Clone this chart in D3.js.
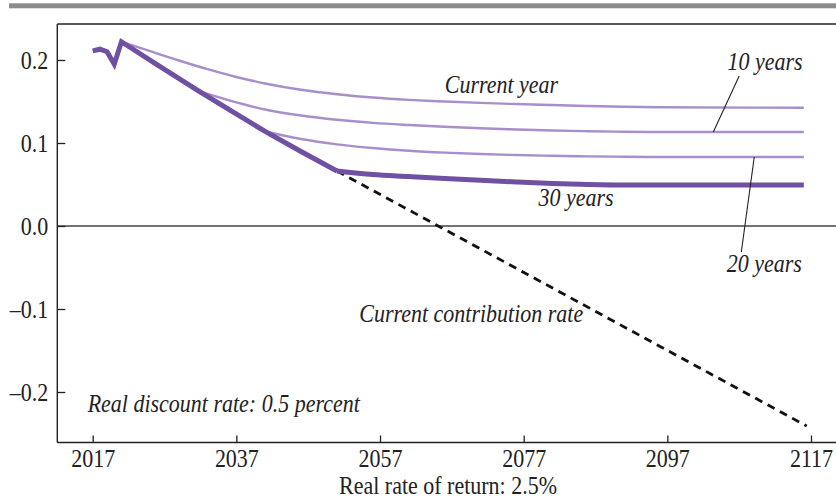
<!DOCTYPE html>
<html>
<head>
<meta charset="utf-8">
<script src="https://cdn.jsdelivr.net/npm/d3@7"></script>
<style>
  html, body { margin: 0; padding: 0; background: #fff; }
  svg { display: block; }
  text { font-family: "Liberation Serif", "Times New Roman", serif; fill: #222; }
  .lbl { font-style: italic; }
</style>
</head>
<body>
<svg id="chart" width="836" height="499"></svg>
<script>
// Contribution-rate paths (years, share of payroll)
const years30    = [2017, 2018, 2019, 2020, 2021, 2026, 2032, 2036, 2041, 2046, 2051, 2056, 2061, 2066, 2071, 2076, 2081, 2086, 2091, 2116];
const values30   = [0.211, 0.213, 0.210, 0.195, 0.222, 0.1942, 0.1614, 0.1402, 0.1139, 0.0898, 0.0663, 0.0620, 0.0596, 0.0572, 0.0550, 0.0530, 0.0512, 0.0500, 0.0494, 0.0494];

const yearsCur   = [2021, 2025, 2029, 2033, 2037, 2041, 2046, 2051, 2056, 2061, 2066, 2071, 2076, 2081, 2086, 2091, 2096, 2116];
const valuesCur  = [0.2220, 0.2106, 0.1994, 0.1889, 0.1795, 0.1717, 0.1641, 0.1587, 0.1548, 0.1520, 0.1500, 0.1483, 0.1469, 0.1457, 0.1446, 0.1437, 0.1431, 0.1425];

const years10    = [2031.7, 2036, 2041, 2046, 2051, 2056, 2061, 2066, 2071, 2076, 2081, 2086, 2091, 2096, 2116];
const values10   = [0.1628, 0.1514, 0.1404, 0.1331, 0.1280, 0.1243, 0.1217, 0.1195, 0.1177, 0.1163, 0.1151, 0.1142, 0.1136, 0.1133, 0.1133];

const years20    = [2041, 2046, 2051, 2056, 2061, 2066, 2071, 2076, 2081, 2086, 2091, 2096, 2116];
const values20   = [0.1139, 0.1048, 0.0984, 0.0940, 0.0907, 0.0884, 0.0867, 0.0855, 0.0846, 0.0839, 0.0834, 0.0831, 0.0831];

const yearsDash  = [2051, 2116.4];
const valuesDash = [0.0663, -0.2410];

const xTicks = [2017, 2037, 2057, 2077, 2097, 2117];
const yTicks = [0.2, 0.1, 0.0, -0.1, -0.2];
const yTickLabels = ["0.2", "0.1", "0.0", "\u20130.1", "\u20130.2"];

(function draw() {
  const svg = d3.select("#chart");
  const W = 836;
  const plotLeft = 57.3, plotTop = 24, plotBottom = 442.5, plotRight = W;
  const stretch = 1.1;   // typeset glyphs run slightly tall

  const x = d3.scaleLinear().domain([2017, 2117]).range([92.7, 811]);
  const y = d3.scaleLinear().domain([-0.2, 0.2]).range([392, 60]);

  const zip = (xs, vs) => xs.map((d, i) => [d, vs[i]]);

  // Top rule
  svg.append("rect").attr("x", 9).attr("y", 3.3).attr("width", W - 9).attr("height", 5)
    .attr("fill", "#8c8c8c");

  // Frame: top, left, bottom
  const frame = svg.append("g").attr("stroke", "#222").attr("stroke-width", 1.4).attr("fill", "none");
  frame.append("line").attr("x1", plotLeft).attr("x2", plotRight).attr("y1", plotTop).attr("y2", plotTop);
  frame.append("line").attr("x1", plotLeft).attr("x2", plotLeft).attr("y1", plotTop).attr("y2", plotBottom);
  frame.append("line").attr("x1", plotLeft).attr("x2", plotRight).attr("y1", plotBottom).attr("y2", plotBottom);

  // Zero line
  svg.append("line").attr("x1", plotLeft).attr("x2", plotRight).attr("y1", y(0)).attr("y2", y(0))
    .attr("stroke", "#444").attr("stroke-width", 1.3);

  // Y axis (ticks pointing inward)
  const yAxis = d3.axisLeft(y).tickValues(yTicks).tickSizeInner(-8).tickSizeOuter(0)
    .tickPadding(17).tickFormat((d, i) => yTickLabels[i]);
  const gy = svg.append("g").attr("transform", `translate(${plotLeft},0)`).call(yAxis);
  gy.select(".domain").remove();
  gy.selectAll(".tick line").attr("stroke", "#222").attr("stroke-width", 1.3);
  gy.selectAll(".tick text").attr("font-family", "Liberation Serif, serif")
    .attr("font-size", 22).attr("fill", "#222").attr("x", -9).attr("dy", "0.34em")
    .attr("transform", `scale(1,${stretch})`);

  // X axis (ticks pointing up)
  const xAxis = d3.axisBottom(x).tickValues(xTicks).tickSizeInner(-7).tickSizeOuter(0)
    .tickFormat(d3.format("d"));
  const gx = svg.append("g").attr("transform", `translate(0,${plotBottom})`).call(xAxis);
  gx.select(".domain").remove();
  gx.selectAll(".tick line").attr("stroke", "#222").attr("stroke-width", 1.3);
  gx.selectAll(".tick text").attr("font-family", "Liberation Serif, serif")
    .attr("font-size", 22).attr("fill", "#222").attr("y", 24.8 / stretch).attr("dy", 0)
    .attr("transform", `scale(1,${stretch})`);

  // Lines
  const smooth = d3.line().x(d => x(d[0])).y(d => y(d[1])).curve(d3.curveMonotoneX);
  const straight = d3.line().x(d => x(d[0])).y(d => y(d[1]));

  const light = "#a88fcc";
  const dark = "#7050a2";

  svg.append("path").datum(zip(yearsDash, valuesDash)).attr("d", straight)
    .attr("fill", "none").attr("stroke", "#111").attr("stroke-width", 2.8)
    .attr("stroke-dasharray", "8,6");

  [[yearsCur, valuesCur], [years10, values10], [years20, values20]].forEach(([xs, vs]) => {
    svg.append("path").datum(zip(xs, vs)).attr("d", smooth)
      .attr("fill", "none").attr("stroke", light).attr("stroke-width", 2.4);
  });

  // 30-year path: sharp breaks in 2021 and 2051, smooth tail afterwards
  const head = zip(years30, values30).filter(d => d[0] <= 2051);
  const tail = zip(years30, values30).filter(d => d[0] >= 2051);
  svg.append("path").datum(head).attr("d", straight)
    .attr("fill", "none").attr("stroke", dark).attr("stroke-width", 5)
    .attr("stroke-linejoin", "miter").attr("stroke-linecap", "butt");
  svg.append("path").datum(tail).attr("d", smooth)
    .attr("fill", "none").attr("stroke", dark).attr("stroke-width", 5)
    .attr("stroke-linecap", "butt");

  // Leader lines
  const leaders = [
    { from: [2107.0, 0.1807], to: [2103.4, 0.1133] },
    { from: [2107.3, -0.0313], to: [2109.1, 0.0831] }
  ];
  leaders.forEach(l => {
    svg.append("line")
      .attr("x1", x(l.from[0])).attr("y1", y(l.from[1]))
      .attr("x2", x(l.to[0])).attr("y2", y(l.to[1]))
      .attr("stroke", "#222").attr("stroke-width", 1.1);
  });

  // Labels (anchored at their baseline point, stretched vertically about it)
  const labels = [
    { t: "Current year", yr: 2073.9, v: 0.160, a: "middle" },
    { t: "10 years", yr: 2110.6, v: 0.188, a: "middle" },
    { t: "30 years", yr: 2084.3, v: 0.0241, a: "middle" },
    { t: "20 years", yr: 2110.5, v: -0.0554, a: "middle" },
    { t: "Current contribution rate", yr: 2069.7, v: -0.1157, a: "middle" },
    { t: "Real discount rate: 0.5 percent", yr: 2016.3, v: -0.224, a: "start" }
  ];
  labels.forEach(l => {
    svg.append("text").attr("class", "lbl")
      .attr("transform", `translate(${x(l.yr)},${y(l.v)}) scale(1,${stretch})`)
      .attr("text-anchor", l.a).attr("font-size", 22).text(l.t);
  });

  // Axis title
  svg.append("text").attr("transform", `translate(448,494) scale(1,${stretch})`)
    .attr("text-anchor", "middle").attr("font-size", 22).text("Real rate of return: 2.5%");
})();
</script>
</body>
</html>
